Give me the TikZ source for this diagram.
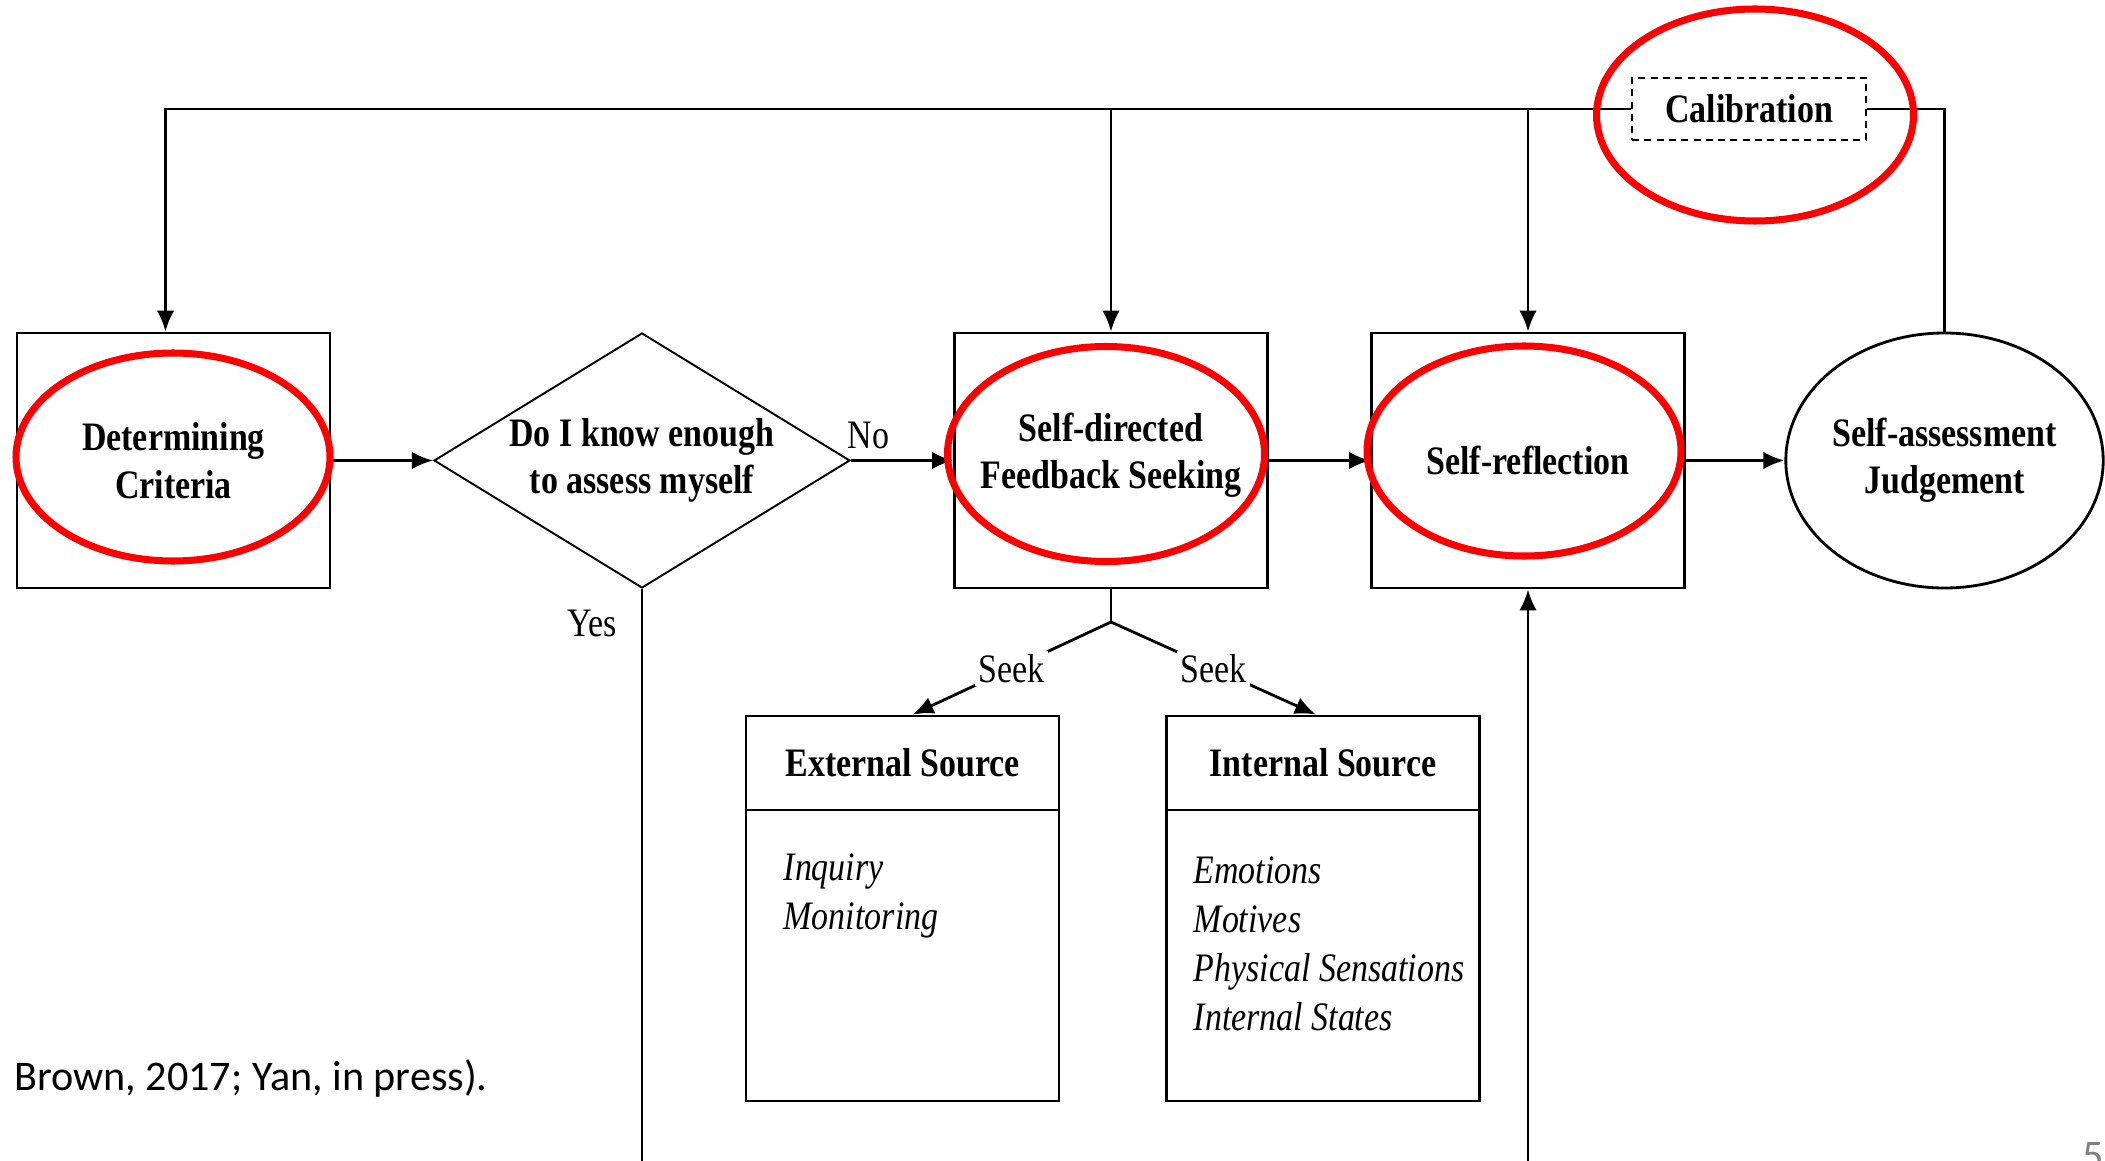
\documentclass[tikz,border=0pt]{standalone}
\usepackage{fontspec}
\setmainfont{Liberation Serif}[FakeStretch=0.84]
\newfontfamily\notefont{Carlito}
\usetikzlibrary{shapes.geometric,arrows.meta,positioning}

\newcommand\diagfont{\fontsize{11.5}{13.5}\selectfont}
\newcommand\itemfont{\fontsize{11.5}{13.9}\selectfont}

\tikzset{
  stage/.style={draw, line width=0.8pt, minimum width=3.13cm, minimum height=2.55cm, align=center, font={\diagfont\bfseries}},
  query/.style={draw, diamond, line width=0.55pt, aspect=1.63, inner sep=0pt, minimum width=4.16cm, minimum height=2.55cm, align=center, font={\diagfont\bfseries}},
  judge/.style={draw, ellipse, line width=0.8pt, inner sep=0pt, minimum width=3.13cm, minimum height=2.55cm, align=center, font={\diagfont\bfseries}},
  calib/.style={draw, dash pattern=on 2pt off 1.5pt, line width=0.6pt, minimum width=2.34cm, minimum height=0.62cm, font={\diagfont\bfseries}},
  source/.style={draw, line width=0.8pt, minimum width=3.13cm, minimum height=3.85cm},
  srchead/.style={draw, line width=0.8pt, minimum width=3.13cm, minimum height=0.94cm, font={\diagfont\bfseries}},
  srcitems/.style={anchor=north west, inner sep=0pt, align=left, font={\itemfont\itshape}},
  ring/.style={draw=red, ellipse, line width=2pt, inner sep=0pt},
  flow/.style={-{Latex[length=6pt,width=5pt]}, line width=0.8pt},
  link/.style={line width=0.8pt},
  tag/.style={font=\diagfont, inner sep=1pt},
}

\begin{document}
\begin{tikzpicture}
  \useasboundingbox (0,0) rectangle (21.05,-11.61);

  % main flow
  \node[stage] (crit) at (1.735,-4.605) {Determining\\Criteria};
  \node[query] (know) at (6.42,-4.605) {Do I know enough\\to assess myself};
  \node[stage] (seek) at (11.11,-4.605) {Self-directed\\Feedback Seeking\\[-8pt]};
  \node[stage] (refl) at (15.28,-4.605) {Self-reflection};
  \node[judge] (judg) at (19.445,-4.605) {Self-assessment\\Judgement};
  \node[calib] (calib) at (17.49,-1.09) {Calibration};

  % sources
  \node[source] (ext) at (9.025,-9.085) {};
  \node[source] (int) at (13.23,-9.085) {};
  \node[srchead, anchor=north] (exthead) at (ext.north) {External Source};
  \node[srchead, anchor=north] (inthead) at (int.north) {Internal Source};
  \node[srcitems] (extitems) at (7.83,-8.53) {Inquiry\\Monitoring};
  \node[srcitems] (intitems) at (11.93,-8.56) {Emotions\\Motives\\Physical Sensations\\Internal States};

  \coordinate (fork) at (11.11,-6.22);
  \coordinate (yesend) at (6.42,-11.61);
  \coordinate (reflin) at (15.28,-11.61);

  \foreach \source/\dest in {crit/know, seek/refl, refl/judg}
    \draw[flow] (\source) -- (\dest);
  \draw[flow] (know) -- node[tag, pos=0.17, above=2pt] {No} (seek);
  \draw[link] (know.south) -- node[tag, pos=0.06, left=0.2cm] {Yes} (yesend);
  \draw[flow] (reflin) -- (refl.south);

  % calibration loop
  \draw[flow] (calib.west) -| ([xshift=-0.8mm]crit.north);
  \draw[flow] (calib.west -| seek.north) -- (seek.north);
  \draw[flow] (calib.west -| refl.north) -- (refl.north);
  \draw[link] (calib.east) -| (judg.north);

  % seeking
  \draw[link] (seek.south) -- (fork);
  \draw[flow] (fork) -- node[tag, fill=white] {Seek} ([xshift=1mm]ext.north);
  \draw[flow] (fork) -- node[tag, fill=white] {Seek} ([xshift=-0.7mm]int.north);

  % highlights
  \node[ring, minimum width=3.14cm, minimum height=2.08cm] (ringcrit) at (1.73,-4.57) {};
  \node[ring, minimum width=3.17cm, minimum height=2.15cm] (ringseek) at (11.06,-4.54) {};
  \node[ring, minimum width=3.14cm, minimum height=2.10cm] (ringrefl) at (15.24,-4.51) {};
  \node[ring, minimum width=3.17cm, minimum height=2.12cm] (ringcalib) at (17.55,-1.15) {};

  \node[anchor=west, font={\notefont\fontsize{12}{14}\selectfont}] (cite) at (0.02,-10.78) {Brown, 2017; Yan, in press).};
  \node[anchor=north west, inner sep=0pt, text=gray, font={\notefont\fontsize{12}{14}\selectfont}] (pnum) at (20.82,-11.42) {5};
\end{tikzpicture}
\end{document}
